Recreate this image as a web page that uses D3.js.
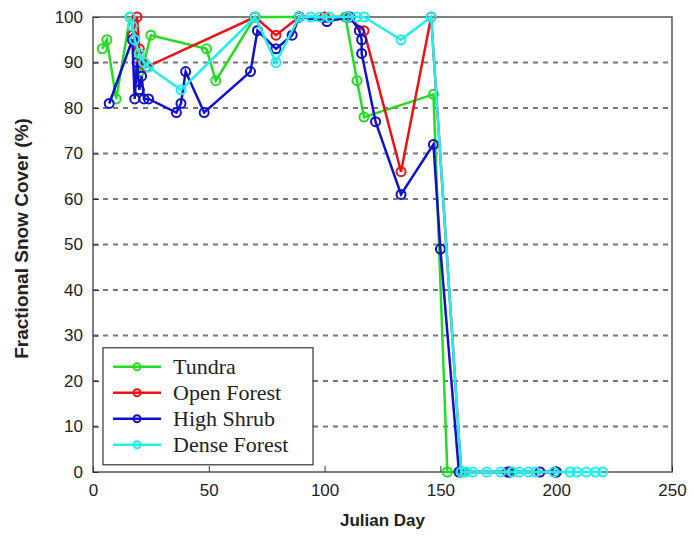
<!DOCTYPE html>
<html>
<head>
<meta charset="utf-8">
<script src="https://cdn.jsdelivr.net/npm/d3@7"></script>
<style>
    body { margin: 0; background: #fff; }
    .axis text { font-family: "Liberation Sans", Arial, sans-serif; font-size: 17px; fill: #222; }
    .axis path, .axis line { stroke: #333; }
    .grid line { stroke: #777; stroke-width: 2; stroke-dasharray: 5,5; }
    .label { font-family: "Liberation Sans", Arial, sans-serif; font-size: 17px; font-weight: bold; fill: #222; }
    .legend text { font-family: "Liberation Serif", "Times New Roman", serif; font-size: 22px; fill: #222; }
</style>
</head>
<body>
<svg id="chart"></svg>
<script>
var seriesNames = ["Tundra", "Open Forest", "High Shrub", "Dense Forest"];
var seriesColors = ["#22dd22", "#ee1111", "#1111cc", "#22eeee"];

// [julian day, fractional snow cover %]
var tundra = [[4,93],[6,95],[10,82],[16,100],[18,95],[20,88],[22,90],[25,96],[49,93],[53,86],
    [70,100],[89,100],[100,100],[109,100],[114,86],[117,78],[147,83],[153,0],[160,0],[180,0],[200,0]];
var openForest = [[17,96],[19,100],[20,93],[21,90],[23,89],[70,100],[79,96],[89,100],[100,100],
    [110,100],[117,97],[133,66],[146,100],[159,0],[180,0],[200,0]];
var highShrub = [[7,81],[17,95],[18,82],[19,90],[20,84],[21,87],[22,82],[24,82],[36,79],[38,81],
    [40,88],[48,79],[68,88],[71,97],[79,93],[86,96],[89,100],[101,99],[111,100],[115,97],[116,95],
    [116,92],[122,77],[133,61],[147,72],[150,49],[158,0],[179,0],[193,0],[200,0]];
var denseForest = [[16,100],[17,98],[18,95],[20,92],[22,90],[24,89],[38,84],[70,100],[79,90],
    [89,100],[94,100],[98,100],[102,100],[110,100],[114,100],[117,100],[133,95],[146,100],
    [159,0],[161,0],[164,0],[170,0],[176,0],[181,0],[184,0],[188,0],[191,0],[199,0],[206,0],
    [209,0],[213,0],[217,0],[220,0]];

var xTicks = [0, 50, 100, 150, 200, 250];
var yTicks = [0, 10, 20, 30, 40, 50, 60, 70, 80, 90, 100];

var width = 694,
    height = 544,
    margin = {top: 17, right: 22, bottom: 72, left: 93},
    innerwidth = width - margin.left - margin.right,
    innerheight = height - margin.top - margin.bottom;

var data = [tundra, openForest, highShrub, denseForest];

var xScale = d3.scaleLinear().domain([0, 250]).range([0, innerwidth]);
var yScale = d3.scaleLinear().domain([0, 100]).range([innerheight, 0]);

var svg = d3.select("#chart")
    .attr("width", width)
    .attr("height", height)
    .append("g")
    .attr("transform", "translate(" + margin.left + "," + margin.top + ")");

// dashed horizontal grid
svg.append("g")
    .attr("class", "grid")
    .selectAll("line")
    .data(yTicks.filter(function(d) { return d > 0 && d < 100; }))
    .enter().append("line")
    .attr("x1", 0)
    .attr("x2", innerwidth)
    .attr("y1", function(d) { return yScale(d); })
    .attr("y2", function(d) { return yScale(d); });

// frame
svg.append("rect")
    .attr("width", innerwidth)
    .attr("height", innerheight)
    .attr("fill", "none")
    .attr("stroke", "#555")
    .attr("stroke-width", 1.5);

var xAxis = d3.axisBottom(xScale).tickValues(xTicks).tickSizeInner(-6).tickSizeOuter(0).tickPadding(12);
var yAxis = d3.axisLeft(yScale).tickValues(yTicks).tickSizeInner(-6).tickSizeOuter(0).tickPadding(10);

svg.append("g")
    .attr("class", "x axis")
    .attr("transform", "translate(0," + innerheight + ")")
    .call(xAxis)
    .call(function(g) { g.select(".domain").remove(); });

svg.append("g")
    .attr("class", "y axis")
    .call(yAxis)
    .call(function(g) { g.select(".domain").remove(); });

svg.append("text")
    .attr("class", "label")
    .attr("x", innerwidth / 2)
    .attr("y", innerheight + 54)
    .style("text-anchor", "middle")
    .text("Julian Day");

svg.append("text")
    .attr("class", "label")
    .attr("transform", "rotate(-90)")
    .attr("x", -innerheight / 2 + 6)
    .attr("y", -65)
    .style("text-anchor", "middle")
    .style("font-size", "19px")
    .text("Fractional Snow Cover (%)");

var line = d3.line()
    .x(function(d) { return xScale(d[0]); })
    .y(function(d) { return yScale(d[1]); });

var series = svg.selectAll(".series")
    .data(data)
    .enter().append("g")
    .attr("class", "series");

series.append("path")
    .attr("d", line)
    .attr("fill", "none")
    .attr("stroke", function(d, i) { return seriesColors[i]; })
    .attr("stroke-width", 2.5);

series.each(function(d, i) {
    d3.select(this).selectAll("circle")
        .data(d)
        .enter().append("circle")
        .attr("cx", function(p) { return xScale(p[0]); })
        .attr("cy", function(p) { return yScale(p[1]); })
        .attr("r", 4.5)
        .attr("fill", "none")
        .attr("stroke", seriesColors[i])
        .attr("stroke-width", 2);
});

// legend
var legend = svg.append("g")
    .attr("class", "legend")
    .attr("transform", "translate(10," + yScale(27.3) + ")");

legend.append("rect")
    .attr("width", 210)
    .attr("height", 117)
    .attr("fill", "#fff")
    .attr("stroke", "#333")
    .attr("stroke-width", 1.2);

var rows = legend.selectAll(".row")
    .data(seriesNames)
    .enter().append("g")
    .attr("class", "row")
    .attr("transform", function(d, i) { return "translate(0," + (19 + i * 26) + ")"; });

rows.append("line")
    .attr("x1", 10)
    .attr("x2", 58)
    .attr("stroke", function(d, i) { return seriesColors[i]; })
    .attr("stroke-width", 2.5);

rows.append("circle")
    .attr("cx", 34)
    .attr("r", 3.5)
    .attr("fill", "none")
    .attr("stroke", function(d, i) { return seriesColors[i]; })
    .attr("stroke-width", 2);

rows.append("text")
    .attr("x", 70)
    .attr("dy", "0.35em")
    .text(function(d) { return d; });
</script>
</body>
</html>
